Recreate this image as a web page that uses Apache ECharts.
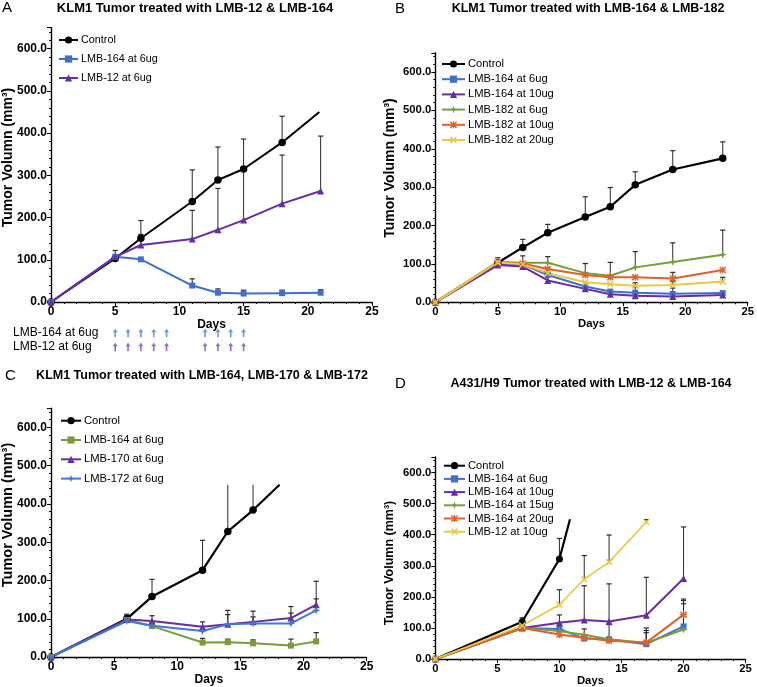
<!DOCTYPE html>
<html>
<head>
<meta charset="utf-8">
<script src="https://cdn.jsdelivr.net/npm/echarts@6/dist/echarts.min.js"></script>
<style>
html,body{margin:0;padding:0;background:#fff;}
#chart{width:757px;height:687px;}
</style>
</head>
<body>
<div id="chart"></div>
<script>
// ---------------- DATA ----------------
// Panel A
const A_days = [0, 5, 7, 11, 13, 15, 18, 21];
const A_control_days = [0, 5, 7, 11, 13, 15, 18, 20.9];
const A_control = [0, 103, 151, 238, 289, 315, 378, 450];
const A_control_err = [null, 122, 193, 313, 367, 386, 440, null];
const A_lmb164_6 = [0, 107, 101, 39, 22, 20, 21, 22];
const A_lmb164_6_err = [null, null, null, 55, 31, 28, 28, 29];
const A_lmb12_6 = [0, 107, 135, 149, 171, 194, 233, 263];
const A_lmb12_6_err = [null, null, 160, 217, 269, 319, 348, 393];
const dose_days = [5, 6, 7, 8, 9, 12, 13, 14, 15];
const dose_rows = ['LMB-164 at 6ug', 'LMB-12 at 6ug'];

// Panel B
const B_days = [0, 5, 7, 9, 12, 14, 16, 19, 23];
const B_control = [0, 103, 143, 181, 222, 249, 306, 346, 375];
const B_control_err = [null, 116, 164, 203, 275, 299, 340, 395, 418];
const B_lmb164_6 = [0, 100, 99, 71, 41, 28, 25, 22, 24];
const B_lmb164_6_err = [null, null, null, null, null, null, 40, 37, null];
const B_lmb164_10 = [0, 97, 93, 57, 35, 21, 17, 15, 19];
const B_lmb164_10_err = [null, null, null, null, null, null, null, null, null];
const B_lmb182_6 = [0, 105, 103, 103, 76, 69, 91, 105, 124];
const B_lmb182_6_err = [null, null, 121, 119, 101, 104, 132, 155, 188];
const B_lmb182_10 = [0, 105, 101, 87, 71, 65, 65, 62, 84];
const B_lmb182_10_err = [null, null, null, null, null, null, null, 78, null];
const B_lmb182_20 = [0, 104, 99, 76, 52, 47, 43, 45, 54];
const B_lmb182_20_err = [null, null, null, null, null, null, 51, 55, 65];

// Panel C
const C_days = [0, 6, 8, 12, 14, 16, 19, 21];
const C_control_days = [0, 6, 8, 12, 14, 16, 18.1];
const C_control = [0, 100, 158, 227, 328, 384, 450];
const C_control_err = [null, 112, 203, 305, 450, 450, null];
const C_lmb164_6 = [0, 97, 81, 38, 39, 36, 30, 41];
const C_lmb164_6_err = [null, null, null, 49, 47, 45, 47, 64];
const C_lmb170_6 = [0, 98, 94, 79, 86, 92, 102, 137];
const C_lmb170_6_err = [null, 109, 108, 92, 122, 120, 132, 198];
const C_lmb172_6 = [0, 94, 82, 68, 86, 88, 88, 122];
const C_lmb172_6_err = [null, null, null, null, 111, 105, 115, 152];

// Panel D
const D_days = [0, 7, 10, 12, 14, 17, 20];
const D_control_days = [0, 7, 10, 10.85];
const D_control = [0, 120, 322, 450];
const D_control_err = [null, 133, 388, null];
const D_lmb164_6 = [0, 100, 97, 66, 64, 48, 105];
const D_lmb164_6_err = [null, null, null, null, null, 92, 193];
const D_lmb164_10 = [0, 100, 117, 126, 121, 141, 259];
const D_lmb164_10_err = [null, null, 142, 236, 242, 263, 425];
const D_lmb164_15 = [0, 100, 90, 78, 64, 52, 95];
const D_lmb164_15_err = [null, null, null, 97, 111, 100, 178];
const D_lmb164_20 = [0, 100, 79, 69, 59, 53, 143];
const D_lmb164_20_err = [null, null, null, null, null, 85, 188];
const D_lmb12_days = [0, 7, 10, 12, 14, 17];
const D_lmb12_10 = [0, 108, 175, 257, 312, 441];
const D_lmb12_10_err = [null, null, 223, 333, 399, 449];

const X_MAX = 25, X_INT = 5, Y_MAX = 650, Y_INT = 100, Y_LABEL_MAX = 600;
const CLIP = 450;
const titles = {
  A: 'KLM1 Tumor treated with LMB-12 & LMB-164',
  B: 'KLM1 Tumor treated with LMB-164 & LMB-182',
  C: 'KLM1 Tumor treated with LMB-164, LMB-170 & LMB-172',
  D: 'A431/H9 Tumor treated with LMB-12 & LMB-164'
};
const Y_NAME = 'Tumor Volumn (mm³)';
const X_NAME = 'Days';

// ---------------- STYLE ----------------
const FONT = '"Liberation Sans", Arial, Helvetica, sans-serif';
const COL = {
  black: '#000000', blue: '#3f6fd0', purple: '#6a2ca4', green: '#74a03a',
  orange: '#e0622b', yellow: '#e6c944', blueC: '#3b7bd6', greenC: '#7a9c38',
  arrowBlue: '#4f80c8', arrowPurple: '#7a4cab', err: '#2a2a2a'
};
const SYM = {
  star4: 'path://M5,0 L6.4,3.6 L10,5 L6.4,6.4 L5,10 L3.6,6.4 L0,5 L3.6,3.6 Z',
  xmark: 'path://M0,1.5 L1.5,0 L5,3.5 L8.5,0 L10,1.5 L6.5,5 L10,8.5 L8.5,10 L5,6.5 L1.5,10 L0,8.5 L3.5,5 Z',
  aster: 'path://M0,1.5 L1.5,0 L5,3.5 L8.5,0 L10,1.5 L6.5,5 L10,8.5 L8.5,10 L5,6.5 L1.5,10 L0,8.5 L3.5,5 Z M4.2,0 L5.8,0 L5.8,10 L4.2,10 Z M0,4.2 L10,4.2 L10,5.8 L0,5.8 Z',
  arrow: 'path://M4,0 L8,5 L5.3,5 L5.3,12 L2.7,12 L2.7,5 L0,5 Z'
};

const panels = [
  {
    id: 'A', grid: {left: 51, top: 27.6, width: 321, height: 274.4}, fs: 12,
    legend: {left: 58, top: 34, gap: 7, iw: 19, fs: 10.8},
    series: [
      {name: 'Control', color: COL.black, symbol: 'circle', size: 7.5, w: 2, days: A_control_days, v: A_control, e: A_control_err},
      {name: 'LMB-164 at 6ug', color: COL.blue, symbol: 'rect', size: 6, w: 2, days: A_days, v: A_lmb164_6, e: A_lmb164_6_err},
      {name: 'LMB-12 at 6ug', color: COL.purple, symbol: 'triangle', size: 7, w: 2, days: A_days, v: A_lmb12_6, e: A_lmb12_6_err}
    ]
  },
  {
    id: 'B', grid: {left: 435.3, top: 52.8, width: 313.3, height: 249.5}, fs: 11.3,
    legend: {left: 441, top: 58, gap: 3.2, iw: 23, fs: 11.2},
    series: [
      {name: 'Control', color: COL.black, symbol: 'circle', size: 7.5, w: 2.2, days: B_days, v: B_control, e: B_control_err},
      {name: 'LMB-164 at 6ug', color: COL.blue, symbol: 'rect', size: 6, w: 2, days: B_days, v: B_lmb164_6, e: B_lmb164_6_err},
      {name: 'LMB-164 at 10ug', color: COL.purple, symbol: 'triangle', size: 7, w: 2, days: B_days, v: B_lmb164_10, e: B_lmb164_10_err},
      {name: 'LMB-182 at 6ug', color: COL.green, symbol: SYM.star4, size: 8, w: 2, days: B_days, v: B_lmb182_6, e: B_lmb182_6_err},
      {name: 'LMB-182 at 10ug', color: COL.orange, symbol: SYM.aster, size: 7, w: 2, days: B_days, v: B_lmb182_10, e: B_lmb182_10_err},
      {name: 'LMB-182 at 20ug', color: COL.yellow, symbol: SYM.xmark, size: 7, w: 2, days: B_days, v: B_lmb182_20, e: B_lmb182_20_err}
    ]
  },
  {
    id: 'C', grid: {left: 51, top: 408.2, width: 315.7, height: 253.5}, fs: 12,
    legend: {left: 60, top: 414.7, gap: 7.3, iw: 20, fs: 11.2},
    series: [
      {name: 'Control', color: COL.black, symbol: 'circle', size: 7.5, w: 2.2, days: C_control_days, v: C_control, e: C_control_err},
      {name: 'LMB-164 at 6ug', color: COL.greenC, symbol: 'rect', size: 6, w: 2, days: C_days, v: C_lmb164_6, e: C_lmb164_6_err},
      {name: 'LMB-170 at 6ug', color: COL.purple, symbol: 'triangle', size: 7, w: 2, days: C_days, v: C_lmb170_6, e: C_lmb170_6_err},
      {name: 'LMB-172 at 6ug', color: COL.blueC, symbol: SYM.star4, size: 8, w: 2, days: C_days, v: C_lmb172_6, e: C_lmb172_6_err}
    ]
  },
  {
    id: 'D', grid: {left: 435.3, top: 457, width: 310.3, height: 204.7}, fs: 11.3,
    legend: {left: 443, top: 459.7, gap: 1.2, iw: 21, fs: 11.2},
    series: [
      {name: 'Control', color: COL.black, symbol: 'circle', size: 7, w: 2.2, days: D_control_days, v: D_control, e: D_control_err},
      {name: 'LMB-164 at 6ug', color: COL.blue, symbol: 'rect', size: 6, w: 2, days: D_days, v: D_lmb164_6, e: D_lmb164_6_err},
      {name: 'LMB-164 at 10ug', color: COL.purple, symbol: 'triangle', size: 7, w: 2, days: D_days, v: D_lmb164_10, e: D_lmb164_10_err},
      {name: 'LMB-164 at 15ug', color: COL.green, symbol: SYM.star4, size: 8, w: 2, days: D_days, v: D_lmb164_15, e: D_lmb164_15_err},
      {name: 'LMB-164 at 20ug', color: COL.orange, symbol: SYM.aster, size: 7, w: 2, days: D_days, v: D_lmb164_20, e: D_lmb164_20_err},
      {name: 'LMB-12 at 10ug', color: COL.yellow, symbol: SYM.xmark, size: 7, w: 1.6, days: D_lmb12_days, v: D_lmb12_10, e: D_lmb12_10_err}
    ]
  }
];

const textDecor = [
  {t: 'A', x: 2, y: 8, size: 15}, {t: 'B', x: 395, y: 9, size: 15},
  {t: 'C', x: 5, y: 376, size: 15}, {t: 'D', x: 395, y: 384, size: 15}
];
const titlePos = {A: [195, 8, 13], B: [588, 9, 12.5], C: [202, 376, 12.5], D: [591, 384, 12.5]};
const yNamePos = {A: [8, 157.5, 14], B: [390, 168, 14], C: [8, 515, 14.5], D: [390, 563, 12.5]};

// ---------------- BUILD ----------------
function renderErr(params, api) {
  const x = api.value(0), m = api.value(1), u = api.value(2);
  const p0 = api.coord([x, m]);
  const p1 = api.coord([x, Math.min(u, CLIP)]);
  const ch = [{type: 'line', shape: {x1: p0[0], y1: p0[1], x2: p1[0], y2: p1[1]},
               style: {stroke: COL.err, lineWidth: 1}}];
  if (u < CLIP) ch.push({type: 'line', shape: {x1: p1[0] - 2.6, y1: p1[1], x2: p1[0] + 2.6, y2: p1[1]},
                        style: {stroke: COL.err, lineWidth: 1.2}});
  return {type: 'group', children: ch};
}

const grids = [], xAxes = [], yAxes = [], series = [], legends = [], graphics = [];

panels.forEach((p, i) => {
  grids.push(Object.assign({containLabel: false}, p.grid));
  xAxes.push({
    type: 'value', gridIndex: i, min: 0, max: X_MAX, interval: X_INT,
    axisLine: {onZero: false, lineStyle: {color: '#000', width: 1.4}},
    axisTick: {length: 4, lineStyle: {color: '#000', width: 1}},
    minorTick: {show: true, splitNumber: 5, length: 2, lineStyle: {color: '#000', width: 1}},
    splitLine: {show: false},
    axisLabel: {color: '#000', fontWeight: 'bold', fontSize: p.fs, fontFamily: FONT, margin: 4},
    name: X_NAME, nameLocation: 'middle', nameGap: 12,
    nameTextStyle: {color: '#000', fontWeight: 'bold', fontSize: p.fs, fontFamily: FONT}
  });
  yAxes.push({
    type: 'value', gridIndex: i, min: 0, max: Y_MAX, interval: Y_INT,
    axisLine: {show: true, onZero: false, lineStyle: {color: '#000', width: 1.4}},
    axisTick: {show: true, length: 4, lineStyle: {color: '#000', width: 1}},
    minorTick: {show: true, splitNumber: 5, length: 2, lineStyle: {color: '#000', width: 1}},
    splitLine: {show: false},
    axisLabel: {color: '#000', fontWeight: 'bold', fontSize: p.fs, fontFamily: FONT, margin: 4,
      formatter: v => (v > Y_LABEL_MAX ? '' : v.toFixed(1))}
  });
  const names = [];
  p.series.forEach(s => {
    const sname = p.id + '|' + s.name;
    names.push(sname);
    series.push({
      type: 'custom', xAxisIndex: i, yAxisIndex: i, z: 1, silent: true,
      renderItem: renderErr, encode: {x: 0, y: 1},
      data: s.days.map((d, k) => (s.e[k] == null ? null : [d, s.v[k], s.e[k]])).filter(r => r)
    });
    series.push({
      type: 'line', name: sname, xAxisIndex: i, yAxisIndex: i, z: 2,
      symbol: s.symbol, symbolSize: s.size, showSymbol: true,
      lineStyle: {color: s.color, width: s.w}, itemStyle: {color: s.color},
      data: s.days.map((d, k) => (s.v[k] >= CLIP ? {value: [d, s.v[k]], symbol: 'none'} : [d, s.v[k]]))
    });
  });
  legends.push({
    orient: 'vertical', left: p.legend.left, top: p.legend.top, itemWidth: p.legend.iw, itemHeight: 9,
    itemGap: p.legend.gap, data: names, selectedMode: false, padding: 0,
    formatter: n => n.split('|')[1],
    textStyle: {color: '#000', fontSize: p.legend.fs, fontFamily: FONT, lineHeight: 12, padding: [0, 0, 0, -2]}
  });
  const tp = titlePos[p.id];
  graphics.push({type: 'text', x: tp[0], y: tp[1], style: {text: titles[p.id], fill: '#000',
    font: 'bold ' + tp[2] + 'px ' + FONT, textAlign: 'center', textVerticalAlign: 'middle'}});
  const yn = yNamePos[p.id];
  graphics.push({type: 'text', x: yn[0], y: yn[1], rotation: Math.PI / 2, style: {text: Y_NAME, fill: '#000',
    font: 'bold ' + yn[2] + 'px ' + FONT, textAlign: 'center', textVerticalAlign: 'middle'}});
});

textDecor.forEach(t => graphics.push({type: 'text', x: t.x, y: t.y, style: {text: t.t, fill: '#000',
  font: t.size + 'px ' + FONT, textAlign: 'left', textVerticalAlign: 'middle'}}));

// dosing arrows under panel A
const gi = grids.length;
grids.push({left: 51, top: 326, width: 321, height: 28});
xAxes.push({type: 'value', gridIndex: gi, min: 0, max: X_MAX, show: false});
yAxes.push({type: 'category', gridIndex: gi, data: dose_rows, inverse: true,
  axisLine: {show: false}, axisTick: {show: false}, splitLine: {show: false},
  axisLabel: {interval: 0, hideOverlap: false, align: 'left', margin: 38, color: '#000', fontSize: 12, fontFamily: FONT}});
[COL.arrowBlue, COL.arrowPurple].forEach((c, r) => {
  series.push({type: 'scatter', xAxisIndex: gi, yAxisIndex: gi, symbol: SYM.arrow, symbolSize: [5, 8.5],
    itemStyle: {color: c}, silent: true, data: dose_days.map(d => [d, dose_rows[r]])});
});

const chart = echarts.init(document.getElementById('chart'), null, {renderer: 'canvas'});
chart.setOption({
  animation: false, backgroundColor: '#fff',
  textStyle: {fontFamily: FONT},
  grid: grids, xAxis: xAxes, yAxis: yAxes, legend: legends, series: series, graphic: graphics
});
</script>
</body>
</html>
